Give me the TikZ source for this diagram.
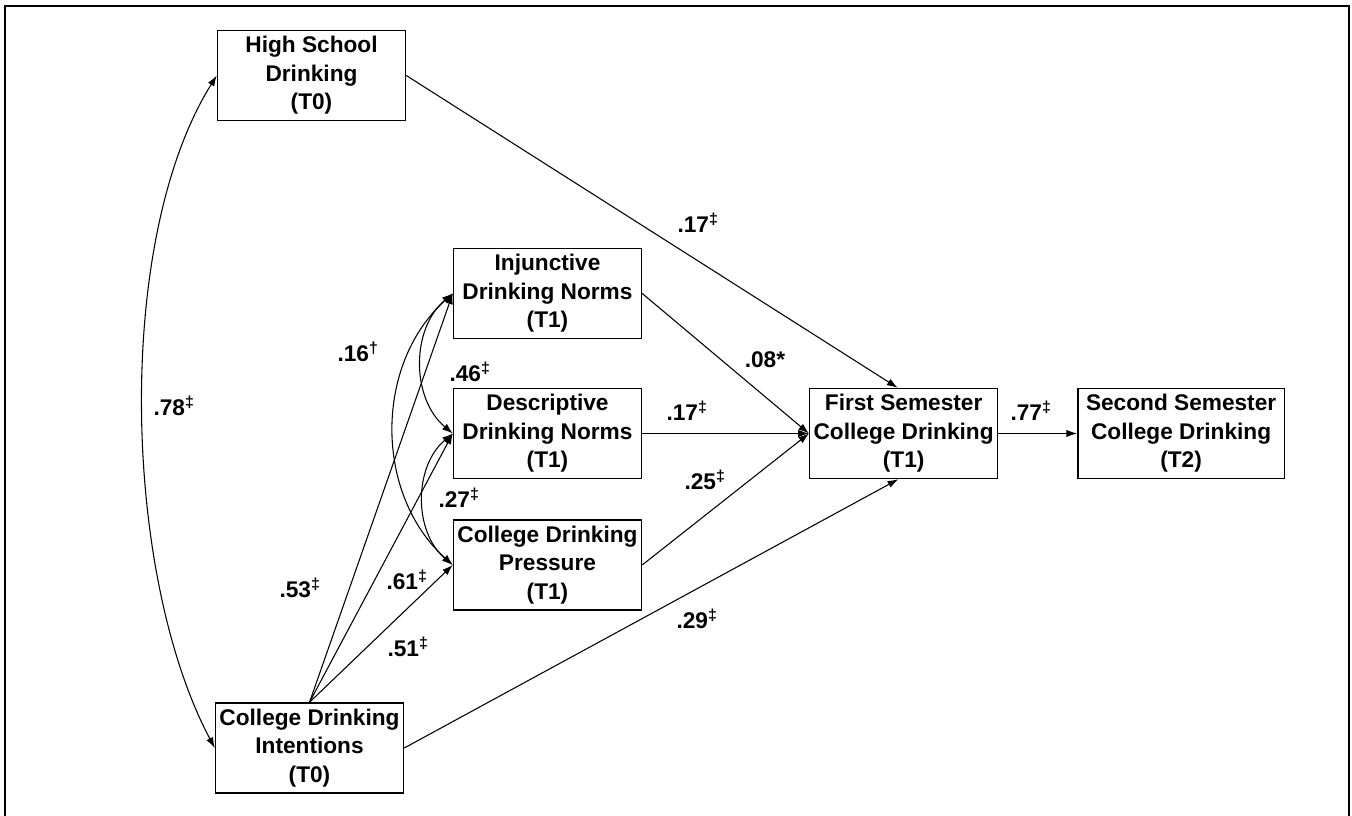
\documentclass[tikz,border=0pt]{standalone}
\usepackage{fontspec}
\setmainfont{Liberation Sans}
\usepackage{tikz}
\usetikzlibrary{arrows.meta, positioning}
\newcommand{\dsig}{\textsuperscript{‡}}
\newcommand{\tsig}{\textsuperscript{†}}
\tikzset{
  var/.style={rectangle, draw=black, line width=1.1pt, align=center,
              minimum width=#1, minimum height=67.5pt, inner sep=1pt,
              font=\bfseries\fontsize{17}{21.4}\selectfont},
  var/.default=141pt,
  effect/.style={-{Latex[length=8pt,width=5.5pt]}, line width=0.8pt},
  covar/.style={{Latex[length=8pt,width=5.5pt]}-{Latex[length=8pt,width=5.5pt]}, line width=0.8pt},
  coef/.style={font=\bfseries\fontsize{17}{20}\selectfont, inner sep=0pt},
}

\begin{document}
\begin{tikzpicture}[x=0.75pt, y=-0.75pt]
\useasboundingbox (0,0) rectangle (1352,816);

% ── frame ─────────────────────────────────────────────────────────────────
\draw[line width=2pt] (5,6) rectangle (1349,830);

% ── T0 predictors ─────────────────────────────────────────────────────────
\node[var] (hs) at (311.5,75.5) {High School\\Drinking\\(T0)};
\node[var] (int) at (309.5,748) {College Drinking\\Intentions\\(T0)};

% ── T1 norms and pressure ─────────────────────────────────────────────────
\node[var] (inj) at (547.5,293.5) {Injunctive\\Drinking Norms\\(T1)};
\node[var, below=36.4pt of inj] (desc) {Descriptive\\Drinking Norms\\(T1)};
\node[var, below=30pt of desc] (pres) {College Drinking\\Pressure\\(T1)};

% ── outcomes ──────────────────────────────────────────────────────────────
\node[var, right=125pt of desc] (fs) {First Semester\\College Drinking\\(T1)};
\node[var=155pt, right=59pt of fs] (ss) {Second Semester\\College Drinking\\(T2)};

% direct paths
\draw[effect] (hs.east) -- ([xshift=-4.5pt]fs.north);
\draw[effect] (int.east) -- ([xshift=-4pt]fs.south);
\draw[effect] (inj.east) -- (fs.west);
\draw[effect] (desc.east) -- (fs.west);
\draw[effect] (pres.east) -- (fs.west);
\draw[effect] (fs.east) -- (ss.west);

% intentions -> T1 mediators
\foreach \m in {inj, desc, pres}
  \draw[effect] (int.north) -- (\m.west);

% correlations
\draw[covar] (hs.west) to[out=238, in=118, looseness=0.74] (int.west);
\draw[covar] (inj.west) to[bend right=50] (desc.west);
\draw[covar] (inj.west) to[bend right=48] (pres.west);
\draw[covar] (desc.west) to[bend right=50] (pres.west);

% ── coefficients ──────────────────────────────────────────────────────────
\node[coef] (c78) at (174,406) {.78\dsig};
\node[coef] (c16) at (358,352) {.16\tsig};
\node[coef] (c46) at (470,372) {.46\dsig};
\node[coef] (c27) at (459,498) {.27\dsig};
\node[coef] (c53) at (300,588) {.53\dsig};
\node[coef] (c61) at (407,580) {.61\dsig};
\node[coef] (c51) at (408,647) {.51\dsig};
\node[coef] (c17a) at (698,223) {.17\dsig};
\node[coef] (c08) at (765,360) {.08*};
\node[coef] (c17b) at (687,411) {.17\dsig};
\node[coef] (c25) at (705,480) {.25\dsig};
\node[coef] (c29) at (697,619) {.29\dsig};
\node[coef] (c77) at (1031,411) {.77\dsig};

\end{tikzpicture}
\end{document}
